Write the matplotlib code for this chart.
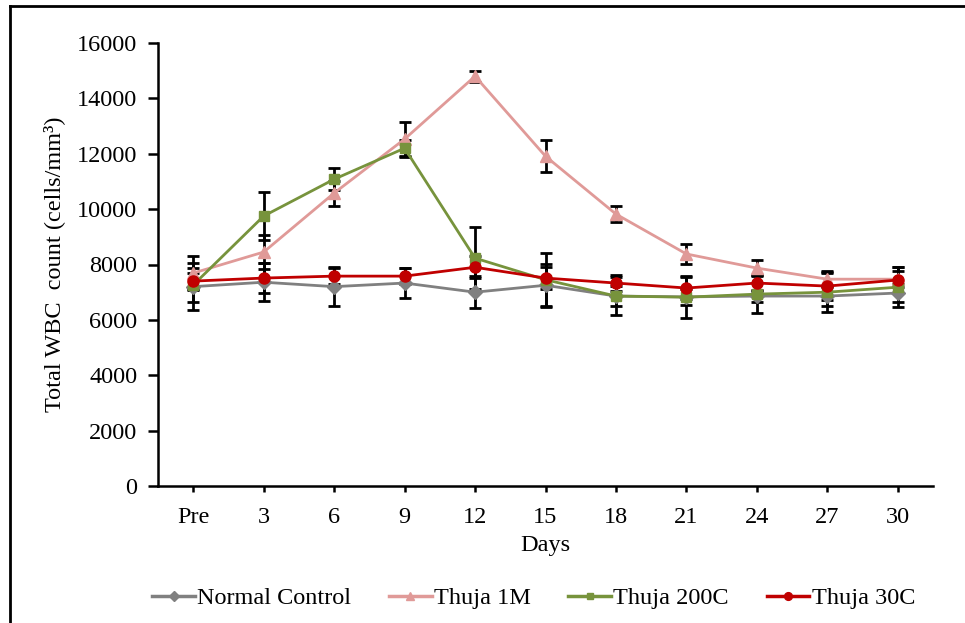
import numpy as np
import matplotlib
matplotlib.use("Agg")
import matplotlib.pyplot as plt
from matplotlib.lines import Line2D

plt.rcParams['font.family'] = ['Liberation Serif', 'DejaVu Serif']

# Data
days = ["Pre", "3", "6", "9", "12", "15", "18", "21", "24", "27", "30"]

normal = [7200, 7360, 7200, 7330, 7000, 7250, 6860, 6830, 6860, 6860, 6970]
normal_err = [850, 680, 700, 540, 570, 780, 360, 300, 220, 350, 330]

thuja_1m = [7690, 8450, 10580, 12530, 14800, 11910, 9820, 8380, 7870, 7470, 7470]
thuja_1m_err = [600, 600, 450, 600, 200, 580, 300, 360, 300, 300, 300]

thuja_200c = [7260, 9750, 11080, 12200, 8230, 7450, 6860, 6820, 6930, 7000, 7180]
thuja_200c_err = [600, 870, 400, 300, 1120, 950, 690, 760, 680, 700, 720]

thuja_30c = [7400, 7510, 7580, 7580, 7900, 7510, 7330, 7150, 7330, 7220, 7440]
thuja_30c_err = [300, 540, 290, 290, 400, 400, 290, 400, 290, 500, 460]

series = [
    ("Normal Control", normal, normal_err, "#808080", "D", 7),
    ("Thuja 1M", thuja_1m, thuja_1m_err, "#E09A98", "^", 9),
    ("Thuja 200C", thuja_200c, thuja_200c_err, "#77933C", "s", 7),
    ("Thuja 30C", thuja_30c, thuja_30c_err, "#C00000", "o", 8),
]

FS = 17.5

fig = plt.figure(figsize=(9.65, 6.23), dpi=100)
ax = fig.add_axes([158 / 965, (623 - 486) / 623, (933 - 158) / 965, (486 - 43) / 623])

x = np.arange(len(days))
handles = []
for name, vals, err, col, mk, ms in series:
    ax.errorbar(x, vals, yerr=err, fmt='none', ecolor='black', elinewidth=2,
                capsize=4, capthick=2, zorder=2)
    ax.plot(x, vals, color=col, marker=mk, markersize=ms, linewidth=2,
            markeredgecolor=col, zorder=3)
    handles.append(Line2D([0], [0], color=col, marker=mk, markersize=ms * 0.7,
                          linewidth=2.5, markeredgecolor=col))

ax.set_xlim(-0.5, len(days) - 0.5)
ax.set_ylim(0, 16000)
ax.set_yticks(np.arange(0, 16001, 2000))
ax.set_xticks(x)
ax.set_xticklabels(days)

for side in ("top", "right"):
    ax.spines[side].set_visible(False)
for side in ("left", "bottom"):
    ax.spines[side].set_linewidth(1.8)
ax.tick_params(axis='both', labelsize=FS, width=1.8, direction='out')
ax.tick_params(axis='y', length=7, pad=8)
ax.tick_params(axis='x', length=4, pad=11)

ax.set_xlabel("Days", fontsize=FS, labelpad=5)
ax.set_ylabel("Total WBC  count (cells/mm³)", fontsize=FS)
ax.yaxis.set_label_coords(-0.12, 0.5)

fig.legend(handles, [s[0] for s in series], loc='center', ncol=4,
           bbox_to_anchor=(0.553, 0.04), frameon=False, fontsize=FS,
           handlelength=1.75, handletextpad=0.1, columnspacing=1.55)

# outer frame (top and left edges visible)
fig.add_artist(Line2D([10 / 965, 10 / 965], [0, 1 - 6 / 623], color='black', linewidth=2,
                      transform=fig.transFigure))
fig.add_artist(Line2D([10 / 965, 1], [1 - 6 / 623, 1 - 6 / 623], color='black', linewidth=2,
                      transform=fig.transFigure))

fig.savefig("out.png", dpi=100)
